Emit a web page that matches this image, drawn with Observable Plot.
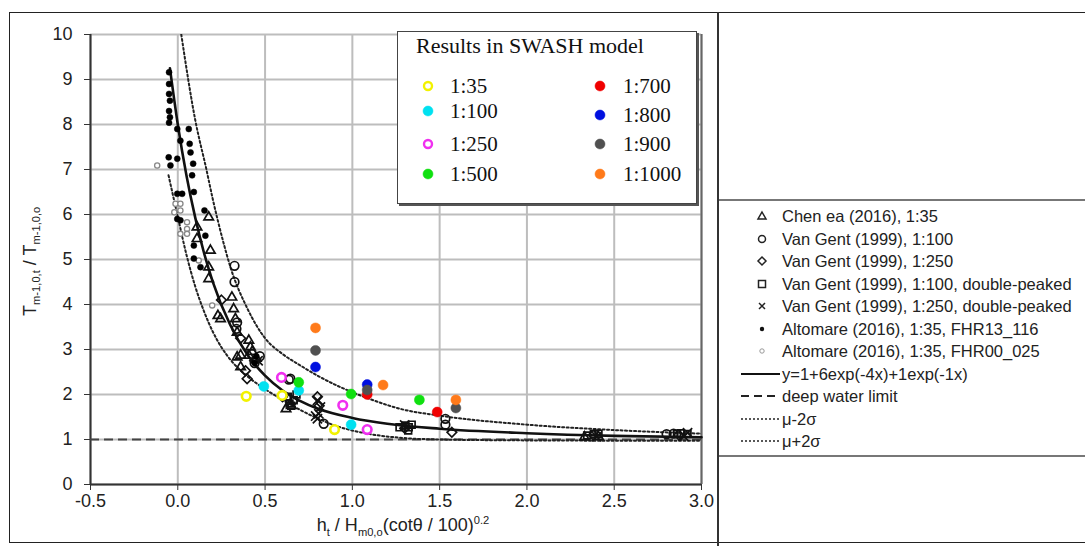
<!DOCTYPE html>
<html>
<head>
<meta charset="utf-8">
<script src="https://cdn.jsdelivr.net/npm/d3@7"></script>
<script src="https://cdn.jsdelivr.net/npm/@observablehq/plot@0.6"></script>
<style>
  html, body { margin: 0; padding: 0; background: #fff; }
  #wrap { position: relative; width: 1085px; height: 546px; overflow: hidden; font-family: "Liberation Sans", Arial, sans-serif; color: #222; }
  .abs { position: absolute; }
  #swash { position: absolute; left: 397px; top: 31px; width: 298px; height: 171px; background: #fff; border: 1.5px solid #444; box-shadow: 2px 2px 0 #555; font-family: "Liberation Serif", "Times New Roman", serif; font-size: 21px; color: #111; }
  .sw { position: absolute; height: 24px; line-height: 24px; white-space: nowrap; }
  .sw svg { position: absolute; top: 4px; }
  .rl { position: absolute; left: 736px; height: 22px; line-height: 22px; font-size: 16.5px; white-space: nowrap; color: #222; }
  .rl svg { position: absolute; left: 0; top: 0; }
  .rl span { position: absolute; left: 46px; top: 0; }
  sub, sup { font-size: 0.62em; }
</style>
</head>
<body>
<div id="wrap">
  <div class="abs" style="left:9px;top:12px;width:1090px;height:529px;border:1.5px solid #222;border-right:none;"></div>
  <div class="abs" style="left:717px;top:12px;width:2px;height:534px;background:#333;"></div>
  <div class="abs" style="left:719px;top:199px;width:366px;height:2px;background:#777;"></div>
  <div class="abs" style="left:719px;top:455px;width:366px;height:2px;background:#777;"></div>
  <div id="plot" class="abs" style="left:0;top:0;"></div>
  <div id="xtitle" class="abs" style="left:203px;top:514px;width:400px;text-align:center;font-size:18px;">h<sub>t</sub> / H<sub>m0,o</sub>(cotθ / 100)<sup>0.2</sup></div>
  <div id="ytitle" class="abs" style="left:-69px;top:250px;width:200px;text-align:center;font-size:18px;transform:rotate(-90deg);">T<sub>m-1,0,t</sub> / T<sub>m-1,0,o</sub></div>
  <div id="swash"></div>
  <div id="rlegend"></div>
</div>
<script>
// ---------- data ----------
const xTicks = [-0.5, 0, 0.5, 1, 1.5, 2, 2.5, 3];
const yTicks = [0, 1, 2, 3, 4, 5, 6, 7, 8, 9, 10];
const deepWater = [1];

// fitted curve y=1+6exp(-4x)+1exp(-1x) and the μ±2σ bands
const curveMain = [[-0.045,9.25],[0,8.0],[0.05,6.86],[0.1,5.93],[0.15,5.15],[0.2,4.51],[0.3,3.55],[0.4,2.88],[0.5,2.42],[0.6,2.09],[0.7,1.86],[0.8,1.69],[1.0,1.48],[1.2,1.35],[1.5,1.24],[2.0,1.14],[2.5,1.08],[3.0,1.05]];
const curveUpper = [[0.02,10],[0.1,8.1],[0.164,7.0],[0.2,6.35],[0.26,5.4],[0.3,4.85],[0.4,3.9],[0.5,3.25],[0.6,2.9],[0.7,2.65],[0.8,2.42],[0.9,2.22],[1.0,2.05],[1.1,1.9],[1.275,1.68],[1.5,1.53],[2.0,1.33],[2.5,1.21],[3.0,1.13]];
const curveLower = [[-0.053,6.87],[0,5.95],[0.05,5.1],[0.1,4.4],[0.15,3.85],[0.2,3.4],[0.25,3.05],[0.3,2.78],[0.4,2.4],[0.5,2.12],[0.6,1.88],[0.7,1.66],[0.8,1.47],[0.9,1.31],[1.0,1.2],[1.1,1.12],[1.27,1.04],[1.5,1.0],[2.0,0.98],[3.0,0.97]];

const chen = [[0.177,5.94],[0.11,5.72],[0.11,5.46],[0.187,5.2],[0.177,4.83],[0.177,4.57],[0.245,3.68],[0.31,4.16],[0.32,3.9],[0.33,3.68],[0.34,3.38],[0.407,3.2],[0.416,3.05],[0.36,2.87],[0.407,2.87],[0.34,2.83],[0.36,2.61],[0.426,2.95],[0.45,2.8],[0.62,1.68],[0.65,1.75],[2.33,1.05],[2.41,1.06],[0.23,3.75]];
const vg100 = [[0.325,4.86],[0.325,4.5],[0.34,3.6],[0.336,3.46],[0.636,2.33],[0.645,2.35],[0.836,1.35],[1.533,1.46],[1.533,1.33],[2.80,1.12],[2.84,1.13],[0.47,2.85],[0.44,2.7]];
const vg250 = [[0.388,2.53],[0.397,2.35],[0.36,3.25],[0.44,2.75],[0.6,1.95],[0.66,1.85],[0.8,1.95],[0.81,1.75],[1.57,1.16],[1.3,1.25],[2.38,1.1],[2.87,1.1],[0.25,4.1]];
const vg100dp = [[0.63,1.95],[0.664,1.87],[0.68,2.0],[0.64,1.8],[1.27,1.27],[1.304,1.31],[1.323,1.27],[1.34,1.33],[1.32,1.2],[2.345,1.09],[2.383,1.12],[2.41,1.13],[2.86,1.12],[2.88,1.14],[2.92,1.12],[0.65,1.75]];
const vg250dp = [[0.8,1.87],[0.808,1.57],[0.8,1.46],[0.817,1.72],[0.79,1.52],[1.3,1.32],[2.9,1.07],[2.92,1.15],[0.46,2.75],[2.4,1.06]];
const alt116 = [[-0.05,9.16],[-0.05,8.9],[-0.05,8.68],[-0.045,8.53],[-0.05,8.3],[-0.045,8.16],[-0.05,8.04],[-0.003,7.9],[0.063,7.9],[0.015,7.64],[0.068,7.57],[0.073,7.38],[0.088,7.13],[-0.052,7.27],[-0.003,7.24],[-0.042,7.09],[0.082,6.87],[-0.003,6.46],[0.025,6.46],[0.092,6.5],[-0.003,5.9],[0.015,5.87],[0.153,6.09],[0.158,5.53],[0.092,5.31],[0.092,5.02],[0.13,4.83],[0.45,2.85],[0.44,2.7]];
const alt025 = [[-0.118,7.09],[-0.013,6.24],[0.015,6.24],[0.015,6.09],[0.053,5.83],[0.053,5.68],[0.015,5.57],[0.053,5.57],[0.12,4.98],[0.197,3.98],[-0.02,6.05]];

// SWASH model results
const sw35   = [[0.392,1.96],[0.598,1.98],[0.898,1.22]];
const sw100  = [[0.493,2.18],[0.693,2.09],[0.993,1.33]];
const sw250  = [[0.594,2.38],[0.945,1.76],[1.085,1.22]];
const sw500  = [[0.693,2.27],[0.993,2.01],[1.384,1.88]];
const sw700  = [[1.085,2.0],[1.486,1.61]];
const sw800  = [[0.789,2.61],[1.085,2.22]];
const sw900  = [[0.789,2.98],[1.085,2.1],[1.593,1.7]];
const sw1000 = [[0.789,3.48],[1.176,2.21],[1.593,1.88]];

const swLabels = ["1:35","1:100","1:250","1:500","1:700","1:800","1:900","1:1000"];
const swColors = ["#f2f200","#00e1f0","#f030f0","#10e010","#f00000","#0010e0","#505050","#ff7a1a"];
const swRing = [true,false,true,false,false,false,false,false];
const swSeries = [sw35, sw100, sw250, sw500, sw700, sw800, sw900, sw1000];

const refLabels = ["Chen ea (2016), 1:35","Van Gent (1999), 1:100","Van Gent (1999), 1:250","Van Gent (1999), 1:100, double-peaked","Van Gent (1999), 1:250, double-peaked","Altomare (2016), 1:35, FHR13_116","Altomare (2016), 1:35, FHR00_025"];
const lineLabels = ["y=1+6exp(-4x)+1exp(-1x)","deep water limit","μ-2σ","μ+2σ"];

// ---------- chart ----------
const X = d => d[0], Y = d => d[1];
const swMarks = swSeries.map((s, i) => Plot.dot(s, swRing[i]
  ? {x: X, y: Y, r: 4.3, stroke: swColors[i], strokeWidth: 2.6, fill: "#fff"}
  : {x: X, y: Y, r: 5, fill: swColors[i], stroke: swColors[i], strokeWidth: 0.5}));

const chart = Plot.plot({
  width: 719, height: 546,
  marginLeft: 90, marginRight: 18, marginTop: 34, marginBottom: 62,
  x: {domain: [-0.5, 3]},
  y: {domain: [0, 10]},
  style: {fontFamily: "'Liberation Sans', Arial, sans-serif", fontSize: "18px", color: "#222", background: "transparent", overflow: "visible"},
  marks: [
    Plot.ruleX(xTicks, {stroke: "#bdbdbd", strokeWidth: 2}),
    Plot.ruleY(yTicks, {stroke: "#bdbdbd", strokeWidth: 2}),
    Plot.ruleX([3], {stroke: "#666", strokeWidth: 2}),
    Plot.ruleX([-0.5], {stroke: "#333", strokeWidth: 2}),
    Plot.ruleY([0], {stroke: "#333", strokeWidth: 2}),
    Plot.axisX(xTicks, {tickFormat: d => d.toFixed(1), tickSize: 6, tickPadding: 4, label: null, stroke: "#333", fontSize: 18}),
    Plot.axisY(yTicks, {tickSize: 6, tickPadding: 12, label: null, stroke: "#333", fontSize: 18}),
    Plot.ruleY(deepWater, {stroke: "#444", strokeWidth: 2, strokeDasharray: "9,5"}),
    Plot.line(curveLower, {x: X, y: Y, curve: "monotone-x", stroke: "#222", strokeWidth: 2, strokeDasharray: "2,2.5", clip: true}),
    Plot.line(curveUpper, {x: X, y: Y, curve: "monotone-x", stroke: "#222", strokeWidth: 2, strokeDasharray: "2,2.5", clip: true}),
    Plot.line(curveMain, {x: X, y: Y, curve: "monotone-x", stroke: "#111", strokeWidth: 2.6}),
    Plot.dot(alt025, {x: X, y: Y, r: 2.6, stroke: "#888", strokeWidth: 1.3, fill: "#fff"}),
    Plot.dot(chen, {x: X, y: Y, symbol: "triangle2", r: 4.5, stroke: "#111", strokeWidth: 1.7}),
    Plot.dot(vg100, {x: X, y: Y, symbol: "circle", r: 4.3, stroke: "#111", strokeWidth: 1.7, fill: "none"}),
    Plot.dot(vg250, {x: X, y: Y, symbol: "diamond2", r: 4.3, stroke: "#111", strokeWidth: 1.7}),
    Plot.dot(vg100dp, {x: X, y: Y, symbol: "square2", r: 4.3, stroke: "#111", strokeWidth: 1.7}),
    Plot.dot(vg250dp, {x: X, y: Y, symbol: "times", r: 4.3, stroke: "#111", strokeWidth: 1.7}),
    Plot.dot(alt116, {x: X, y: Y, r: 3, fill: "#000", stroke: "#000", strokeWidth: 0.5}),
    ...swMarks
  ]
});
document.getElementById("plot").appendChild(chart);

// ---------- SWASH legend ----------
const sw = document.getElementById("swash");
const title = document.createElement("div");
title.className = "sw";
title.style.left = "18px"; title.style.top = "2px"; title.style.fontSize = "22px";
title.textContent = "Results in SWASH model";
sw.appendChild(title);
const rowTops = [42, 67, 100, 130];
swLabels.forEach((lab, i) => {
  const col = i < 4 ? 0 : 1;
  const row = i % 4;
  const d = document.createElement("div");
  d.className = "sw";
  const mx = col === 0 ? 22 : 194;
  const tx = col === 0 ? 52 : 225;
  d.style.left = mx + "px";
  d.style.top = (rowTops[row] + (col === 1 && row === 1 ? 4 : 0)) + "px";
  const ring = swRing[i];
  d.innerHTML = `<svg width="16" height="16" style="left:0"><circle cx="8" cy="8" r="${ring ? 4 : 5}" fill="${ring ? '#fff' : swColors[i]}" stroke="${swColors[i]}" stroke-width="${ring ? 2.4 : 0.5}"/></svg><span style="position:absolute;left:${tx - mx}px">${lab}</span>`;
  sw.appendChild(d);
});

// ---------- right legend ----------
const rl = document.getElementById("rlegend");
const symbolSvg = [
  `<polygon points="26,7 30,14 22,14" fill="none" stroke="#222" stroke-width="1.5"/>`,
  `<circle cx="26" cy="11" r="3.5" fill="none" stroke="#222" stroke-width="1.5"/>`,
  `<polygon points="26,7 30,11 26,15 22,11" fill="none" stroke="#222" stroke-width="1.5"/>`,
  `<rect x="22.5" y="7.5" width="7" height="7" fill="none" stroke="#222" stroke-width="1.5"/>`,
  `<path d="M23,8L29,14M29,8L23,14" stroke="#222" stroke-width="1.5"/>`,
  `<circle cx="26" cy="11" r="2.2" fill="#111"/>`,
  `<circle cx="26" cy="11" r="2.2" fill="#fff" stroke="#999" stroke-width="1"/>`
];
const lineSvg = [
  `<line x1="5" y1="11" x2="44" y2="11" stroke="#111" stroke-width="2.2"/>`,
  `<line x1="5" y1="11" x2="44" y2="11" stroke="#222" stroke-width="2" stroke-dasharray="8,5"/>`,
  `<line x1="5" y1="11" x2="44" y2="11" stroke="#222" stroke-width="1.6" stroke-dasharray="2,2"/>`,
  `<line x1="5" y1="11" x2="44" y2="11" stroke="#222" stroke-width="1.6" stroke-dasharray="2,2"/>`
];
const allLabels = refLabels.concat(lineLabels);
allLabels.forEach((lab, i) => {
  const d = document.createElement("div");
  d.className = "rl";
  d.style.top = (216 + 22.5 * i - 11) + "px";
  const sym = i < 7 ? symbolSvg[i] : lineSvg[i - 7];
  d.innerHTML = `<svg width="48" height="22">${sym}</svg><span>${lab}</span>`;
  rl.appendChild(d);
});
</script>
</body>
</html>
